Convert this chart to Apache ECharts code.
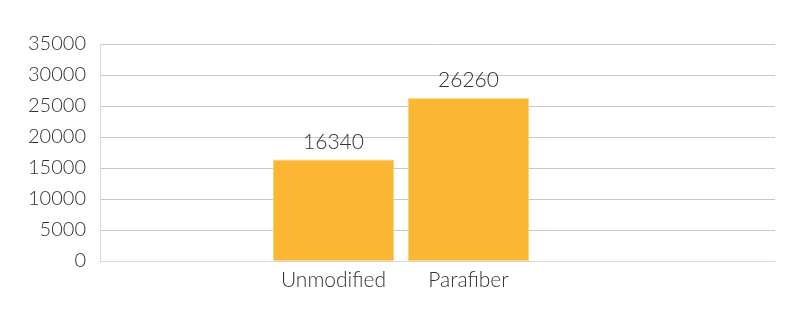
<!DOCTYPE html>
<html>
<head>
<meta charset="utf-8">
<script src="https://cdn.jsdelivr.net/npm/echarts@6/dist/echarts.min.js"></script>
<style>html,body{margin:0;padding:0;background:#fff}#c{width:800px;height:329px}</style>
</head>
<body>
<div id="c"></div>
<script>
const categories = ['Unmodified', 'Parafiber'];
const values = [16340, 26260];
const yTicks = { min: 0, max: 35000, interval: 5000 };

const FONT = 'Lato';
const chart = echarts.init(document.getElementById('c'), null, { renderer: 'canvas' });
chart.setOption({
  animation: false,
  backgroundColor: '#ffffff',
  grid: [
    { left: 100, right: 25, top: 44, bottom: 68, containLabel: false },
    { left: 266, width: 270, top: 44, bottom: 68, containLabel: false }
  ],
  xAxis: [
    { gridIndex: 0, type: 'category', data: [''], axisLine: { show: true, lineStyle: { color: '#d9d9d9' } },
      axisTick: { show: false }, axisLabel: { show: false }, splitLine: { show: false } },
    { gridIndex: 1, type: 'category', data: categories,
      axisLine: { show: false }, axisTick: { show: false },
      axisLabel: { interval: 0, color: '#333333', fontFamily: FONT, fontWeight: 300, fontSize: 21, margin: 9 } }
  ],
  yAxis: [
    { gridIndex: 0, type: 'value', min: yTicks.min, max: yTicks.max, interval: yTicks.interval,
      axisLine: { show: true, lineStyle: { color: '#d9d9d9' } }, axisTick: { show: false },
      axisLabel: { color: '#333333', fontFamily: FONT, fontWeight: 300, fontSize: 20, margin: 14,
        formatter: v => String(v) },
      splitLine: { show: true, lineStyle: { color: '#c8c8c8', width: 1 } } },
    { gridIndex: 1, type: 'value', min: yTicks.min, max: yTicks.max, interval: yTicks.interval,
      show: false, splitLine: { show: false } }
  ],
  series: [{
    type: 'bar',
    xAxisIndex: 1, yAxisIndex: 1,
    data: values,
    barWidth: 121,
    itemStyle: { color: '#fbb734', borderColor: '#fcd27a', borderWidth: 1 },
    label: { show: true, position: 'top', distance: 7, color: '#333333',
      fontFamily: FONT, fontWeight: 300, fontSize: 21, formatter: p => String(p.value) }
  }]
});
</script>
</body>
</html>
